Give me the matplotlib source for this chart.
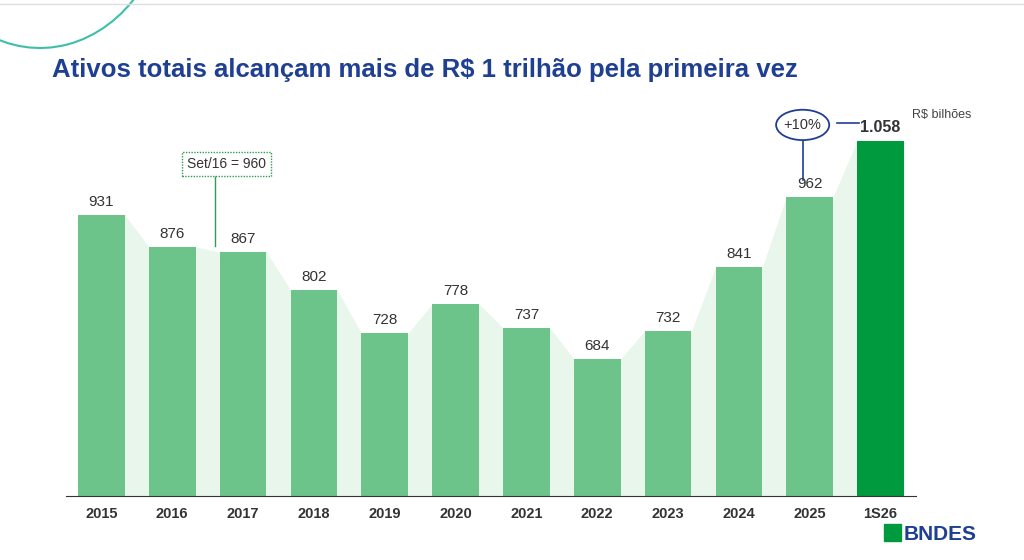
import matplotlib.pyplot as plt
from matplotlib.patches import Ellipse, Arc, Rectangle
import numpy as np

plt.rcParams['font.family'] = ['Liberation Sans', 'DejaVu Sans']

years = ['2015', '2016', '2017', '2018', '2019', '2020', '2021', '2022', '2023', '2024', '2025', '1S26']
values = [931, 876, 867, 802, 728, 778, 737, 684, 732, 841, 962, 1058]
labels = ['931', '876', '867', '802', '728', '778', '737', '684', '732', '841', '962', '1.058']

fig = plt.figure(figsize=(10.24, 5.6), dpi=100)
W, H = 1024, 560

# top decoration
fig.add_artist(plt.Line2D([0, 1], [1 - 4 / H, 1 - 4 / H], color='#dddddd', lw=1))
deco = fig.add_axes([0, 0, 1, 1], zorder=-1)
deco.set_xlim(0, W); deco.set_ylim(H, 0); deco.axis('off')
deco.add_patch(Arc((40, -110), 260, 316, theta1=45, theta2=112, color='#3dbfa8', lw=1.5))

fig.text(52 / W, 1 - 70 / H, 'Ativos totais alcançam mais de R$ 1 trilhão pela primeira vez',
         fontsize=18.5, fontweight='bold', color='#1f3f93', va='center')

ax = fig.add_axes([66 / W, 64 / H, 850 / W, 409 / H])
x = np.arange(len(values))
bw = 0.66
base = 449

# light shaded band linking bar tops
xs, ys = [], []
for i, v in enumerate(values):
    xs += [i - bw / 2, i + bw / 2]
    ys += [v, v]
ax.fill_between(xs, base, ys, color='#e9f6ec', zorder=0, lw=0)

colors = ['#6cc48a'] * (len(values) - 1) + ['#009a3e']
ax.bar(x, np.array(values) - base, bottom=base, width=bw, color=colors, zorder=2)

for i, (v, lab) in enumerate(zip(values, labels)):
    if i == len(values) - 1:
        continue
    ax.text(i, v + 10, lab, ha='center', va='bottom', fontsize=11, color='#333333')
ax.text(11, values[-1] + 10, labels[-1], ha='center', va='bottom', fontsize=11.5,
        fontweight='bold', color='#333333')

ax.set_xlim(-0.5, len(values) - 0.5)
ax.set_ylim(base, 1150)
ax.set_xticks(x)
ax.set_xticklabels(years, fontsize=10.5, fontweight='bold', color='#333333')
ax.tick_params(axis='x', length=0, pad=8)
ax.set_yticks([])
for s in ['left', 'right', 'top']:
    ax.spines[s].set_visible(False)
ax.spines['bottom'].set_color('#333333')

# Set/16 annotation
ax.plot([1.6, 1.6], [878, 1000], color='#2e9e4e', lw=1, zorder=3)
ax.text(1.77, 1018, 'Set/16 = 960', ha='center', va='center', fontsize=10, color='#333333',
        bbox=dict(boxstyle='square,pad=0.35', fc='white', ec='#2e9e4e', ls=(0, (1, 1)), lw=1))

# +10% annotation
ax.add_patch(Ellipse((9.9, 1085), 0.75, 52, fill=False, ec='#1f3f93', lw=1.3, zorder=4))
ax.text(9.9, 1085, '+10%', ha='center', va='center', fontsize=10.5, color='#333333')
ax.plot([9.9, 9.9], [990, 1058], color='#1f3f93', lw=1.2)
ax.plot([10.38, 10.7], [1088, 1088], color='#1f3f93', lw=1.2)

fig.text(912 / W, 1 - 115 / H, 'R$ bilhões', fontsize=9, color='#444444', va='center')

# logo
deco.add_patch(Rectangle((884, 524), 17, 17, color='#009a3e'))
fig.text(904 / W, 1 - 534 / H, 'BNDES', fontsize=15, fontweight='bold', color='#1f3f93', va='center')

fig.savefig('out.png', dpi=100)
